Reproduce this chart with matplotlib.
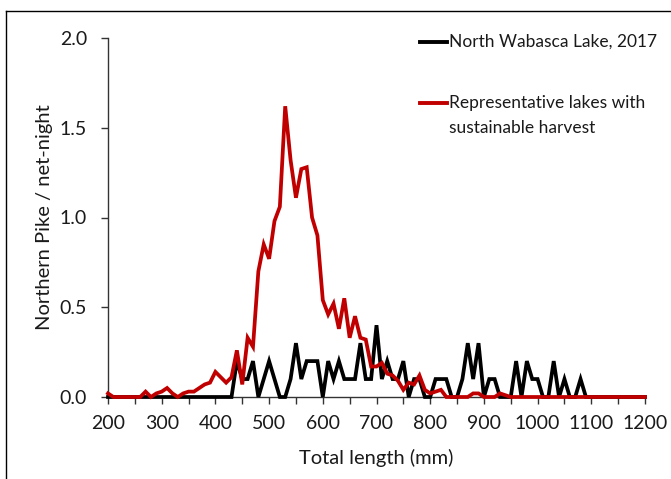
import matplotlib
matplotlib.use("Agg")
import matplotlib.pyplot as plt
from matplotlib.lines import Line2D

# ---- data (every 10 mm, 200..1200) ----
lengths = list(range(200, 1210, 10))

red_vals = [0.02, 0, 0, 0, 0, 0, 0, 0.03, 0, 0.02,      # 200-290
            0.03, 0.05, 0.02, 0, 0.02, 0.03, 0.03, 0.05, 0.07, 0.08,   # 300-390
            0.14, 0.11, 0.08, 0.11, 0.26, 0.07, 0.33, 0.28, 0.70, 0.85,  # 400-490
            0.77, 0.98, 1.06, 1.62, 1.32, 1.11, 1.27, 1.28, 1.00, 0.90,  # 500-590
            0.54, 0.46, 0.52, 0.38, 0.55, 0.33, 0.45, 0.33, 0.32, 0.17,  # 600-690
            0.17, 0.19, 0.13, 0.12, 0.09, 0.04, 0.08, 0.07, 0.12, 0.04,  # 700-790
            0.02, 0.03, 0.04, 0, 0, 0, 0, 0, 0.02, 0.02,                 # 800-890
            0, 0, 0, 0.02, 0.01, 0, 0, 0, 0, 0,                          # 900-990
            0, 0, 0, 0, 0, 0, 0, 0, 0, 0,                                # 1000-1090
            0, 0, 0, 0, 0, 0, 0, 0, 0, 0,                                # 1100-1190
            0]                                                           # 1200

black_vals = [0, 0, 0, 0, 0, 0, 0, 0, 0, 0,                # 200-290
              0, 0, 0, 0, 0, 0, 0, 0, 0, 0,                # 300-390
              0, 0, 0, 0, 0.2, 0.1, 0.1, 0.2, 0, 0.1,      # 400-490
              0.2, 0.1, 0, 0, 0.1, 0.3, 0.1, 0.2, 0.2, 0.2,  # 500-590
              0, 0.2, 0.1, 0.2, 0.1, 0.1, 0.1, 0.3, 0.1, 0.1,  # 600-690
              0.4, 0.1, 0.2, 0.1, 0.1, 0.2, 0, 0.1, 0.1, 0,    # 700-790
              0, 0.1, 0.1, 0.1, 0, 0, 0.1, 0.3, 0.1, 0.3,      # 800-890
              0, 0.1, 0.1, 0, 0, 0, 0.2, 0, 0.2, 0.1,          # 900-990
              0.1, 0, 0, 0.2, 0, 0.1, 0, 0, 0.1, 0,            # 1000-1090
              0, 0, 0, 0, 0, 0, 0, 0, 0, 0,                    # 1100-1190
              0]                                               # 1200

series_names = ["North Wabasca Lake, 2017",
                "Representative lakes with",
                "sustainable harvest"]
x_ticks = list(range(200, 1300, 100))
y_ticks = [0.0, 0.5, 1.0, 1.5, 2.0]
x_label = "Total length (mm)"
y_label = "Northern Pike / net-night"

FONT = "Lato"
TXT = "#1a1a1a"
BLACK = "#000000"
RED = "#C00000"

fig = plt.figure(figsize=(6.71, 4.79), dpi=100)
ax = fig.add_axes([108/671, 1-397/479, (645-108)/671, (397-38)/479])

ax.plot(lengths, black_vals, color=BLACK, lw=2.7, zorder=3, solid_joinstyle="miter", clip_on=False)
ax.plot(lengths, red_vals, color=RED, lw=2.7, zorder=4, solid_joinstyle="miter", clip_on=False)

ax.set_xlim(200, 1200)
ax.set_ylim(0, 2.0)
ax.set_xticks(x_ticks)
ax.set_xticks(list(range(250, 1200, 100)), minor=True)
ax.set_xticklabels([str(v) for v in x_ticks], fontfamily=FONT, fontsize=14, color=TXT)
ax.set_yticks(y_ticks)
ax.set_yticklabels([f"{v:.1f}" for v in y_ticks], fontfamily=FONT, fontsize=14, color=TXT)
ax.tick_params(axis="both", which="both", direction="out", length=5, width=1, color="#333333")
ax.tick_params(axis="x", which="major", pad=8)
ax.tick_params(axis="y", which="major", pad=10)
for s in ["top", "right"]:
    ax.spines[s].set_visible(False)
for s in ["left", "bottom"]:
    ax.spines[s].set_color("#333333")
    ax.spines[s].set_linewidth(1)

ax.set_xlabel(x_label, fontfamily=FONT, fontsize=14.5, color=TXT, labelpad=12)
ax.set_ylabel(y_label, fontfamily=FONT, fontsize=14.5, color=TXT, labelpad=5)

# legend drawn manually (Excel style)
def px(x, y):
    return (x/671, 1-y/479)

fig.add_artist(Line2D([420/671, 447/671], [1-42/479, 1-42/479], color=BLACK, lw=2.8))
fig.text(*px(449, 42), series_names[0], fontfamily=FONT, fontsize=12.5, color=TXT, va="center", ha="left")
fig.add_artist(Line2D([420/671, 447/671], [1-103/479, 1-103/479], color=RED, lw=2.8))
fig.text(*px(449, 103), series_names[1], fontfamily=FONT, fontsize=12.5, color=TXT, va="center", ha="left")
fig.text(*px(449, 128), series_names[2], fontfamily=FONT, fontsize=12.5, color=TXT, va="center", ha="left")

# outer frame (top and left edges visible in reference)
fig.add_artist(Line2D([5.5/671, 1.0], [1-10.5/479, 1-10.5/479], color="#000000", lw=1))
fig.add_artist(Line2D([5.5/671, 5.5/671], [0, 1-10.5/479], color="#000000", lw=1))

fig.savefig("out.png", dpi=100)
